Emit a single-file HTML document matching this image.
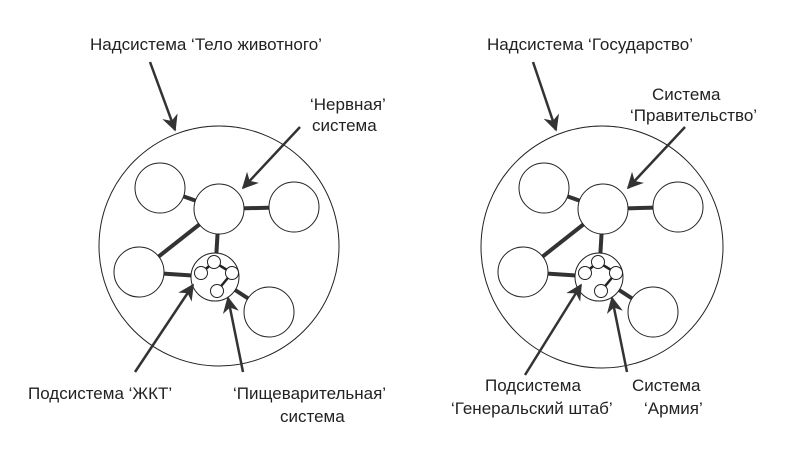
<!DOCTYPE html><html><head><meta charset="utf-8"><style>body{margin:0;background:#fff}svg text{font-family:"Liberation Sans",sans-serif;font-size:17px;fill:#222}</style></head><body>
<svg width="787" height="460" viewBox="0 0 787 460">
<defs><marker id="a" viewBox="0 0 10 10" refX="9" refY="5" markerWidth="6.5" markerHeight="6.5" orient="auto"><path d="M0,0L10,5L0,10L3,5z" fill="#333"/></marker>
<g id="d" stroke="#222" fill="#fff">
<g stroke-width="4" stroke="#333"><line x1="160" y1="188" x2="219" y2="209"/><line x1="219" y1="209" x2="294" y2="207"/><line x1="219" y1="209" x2="139" y2="272"/><line x1="219" y1="209" x2="215" y2="277"/><line x1="139" y1="272" x2="215" y2="277"/><line x1="215" y1="277" x2="269" y2="312"/></g>
<circle cx="160" cy="188" r="25"/><circle cx="219" cy="209" r="25"/><circle cx="294" cy="207" r="25"/><circle cx="139" cy="272" r="25"/><circle cx="269" cy="312" r="25"/><circle cx="215" cy="277" r="24"/>
<g stroke-width="2.5"><line x1="201" y1="273" x2="214" y2="262"/><line x1="214" y1="262" x2="232" y2="273"/><line x1="232" y1="273" x2="217" y2="291"/></g>
<circle cx="201" cy="273" r="6.5"/><circle cx="214" cy="262" r="6.5"/><circle cx="232" cy="273" r="6.5"/><circle cx="217" cy="291" r="6.5"/>
</g></defs>
<circle cx="219" cy="246" r="120" fill="none" stroke="#222"/>
<circle cx="602" cy="247" r="121" fill="none" stroke="#222"/>
<use href="#d"/><use href="#d" x="384"/>
<g stroke="#333" stroke-width="2.5" marker-end="url(#a)">
<line x1="150" y1="62" x2="175" y2="130"/><line x1="300" y1="127" x2="243" y2="188"/><line x1="135" y1="372" x2="193" y2="285"/><line x1="243" y1="372" x2="228" y2="298"/>
<line x1="533" y1="62" x2="556" y2="130"/><line x1="685" y1="127" x2="628" y2="188"/><line x1="525" y1="375" x2="581" y2="285"/><line x1="627" y1="372" x2="612" y2="298"/>
</g>
<text x="90" y="50">Надсистема ‘Тело животного’</text>
<text x="310" y="110">‘Нервная’</text><text x="312" y="131">система</text>
<text x="28" y="399">Подсистема ‘ЖКТ’</text>
<text x="233" y="399">‘Пищеварительная’</text><text x="280" y="422">система</text>
<text x="487" y="50">Надсистема ‘Государство’</text>
<text x="652" y="100">Система</text><text x="630" y="121">‘Правительство’</text>
<text x="485" y="391">Подсистема</text><text x="451" y="414">‘Генеральский штаб’</text>
<text x="632" y="391">Система</text><text x="644" y="414">‘Армия’</text>
</svg></body></html>
